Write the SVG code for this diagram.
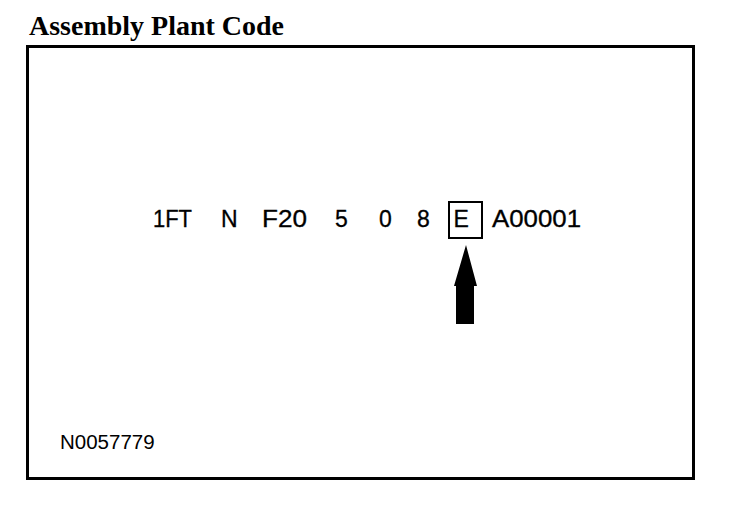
<svg xmlns="http://www.w3.org/2000/svg" width="752" height="512" viewBox="0 0 752 512">
<style>
.t{font-family:"Liberation Sans",Arial,sans-serif;font-size:23px;fill:#000;stroke:#000;stroke-width:0.3}
.title{font-family:"Liberation Serif","Times New Roman",serif;font-weight:bold;font-size:27px;fill:#000}
.id{font-family:"Liberation Sans",Arial,sans-serif;font-size:20.5px;fill:#000}
</style>
<rect width="752" height="512" fill="#fff"/>
<text class="title" x="29" y="35" textLength="255" lengthAdjust="spacingAndGlyphs">Assembly Plant Code</text>
<rect x="27.5" y="46.5" width="666" height="432" fill="none" stroke="#000" stroke-width="3"/>
<g id="code">
<text class="t" x="153" y="226.5" textLength="39" lengthAdjust="spacingAndGlyphs">1FT</text>
<text class="t" x="221" y="226.5">N</text>
<text class="t" x="262" y="226.5" textLength="45" lengthAdjust="spacingAndGlyphs">F20</text>
<text class="t" x="335" y="226.5">5</text>
<text class="t" x="379" y="226.5">0</text>
<text class="t" x="417" y="226.5">8</text>
<g id="box">
<rect x="449" y="202" width="33" height="36" fill="none" stroke="#000" stroke-width="2"/>
<text class="t" x="453.5" y="226.5">E</text>
</g>
<text class="t" x="492" y="226.5" textLength="89" lengthAdjust="spacingAndGlyphs">A00001</text>
</g>
<g id="connectors">
<polygon points="466,245 477,286 474,286 474,324 456,324 456,286 454,286" fill="#000"/>
</g>
<text class="id" x="60" y="449">N0057779</text>
</svg>
